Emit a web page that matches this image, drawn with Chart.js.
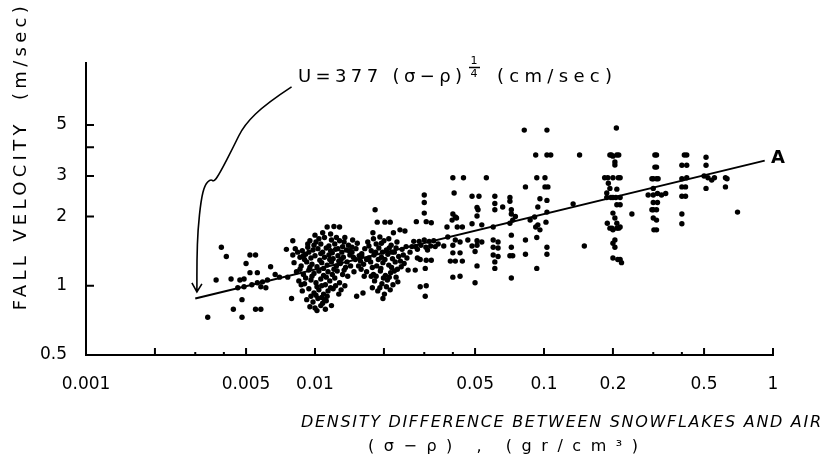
<!DOCTYPE html>
<html>
<head>
<meta charset="utf-8">
<script src="https://cdn.jsdelivr.net/npm/chart.js@4.4.1/dist/chart.umd.min.js"></script>
<style>
  html, body { margin: 0; background: #fff; }
  #wrap { width: 831px; height: 468px; }
</style>
</head>
<body>
<div id="wrap"><canvas id="chart" width="831" height="468"></canvas></div>
<script>
// axis ticks
const xTicks = [0.001, 0.002, 0.003, 0.004, 0.005, 0.01, 0.02, 0.03, 0.04, 0.05, 0.1, 0.2, 0.3, 0.4, 0.5, 1];
const xLabelValues = [0.001, 0.005, 0.01, 0.05, 0.1, 0.2, 0.5, 1];
const xLabelText = ["0.001", "0.005", "0.01", "0.05", "0.1", "0.2", "0.5", "1"];
const xMajorMarks = [0.002, 0.005, 0.01, 0.02, 0.05, 0.1, 0.2, 0.5, 1];
const xMinorMarks = [0.003, 0.004, 0.03, 0.04, 0.3, 0.4];
const yTicks = [0.5, 1, 2, 3, 4, 5];
const yLabelValues = [0.5, 1, 2, 3, 5];
const yLabelText = ["0.5", "1", "2", "3", "5"];
const yMarks = [1, 2, 3, 4, 5];

// observations [density difference gr/cm3, fall velocity m/sec]
const lowDensity = [
  [0.0034,0.73],[0.0039,1.47],[0.0041,1.34],[0.0037,1.06],[0.0043,1.07],[0.0044,0.79],[0.0046,0.98],
  [0.0047,1.06],[0.0048,0.87],[0.0048,0.73],[0.0049,1.07],[0.0049,0.99],[0.0050,1.25],[0.0052,1.36],
  [0.0052,1.14],[0.0053,1.01],[0.0055,1.36],[0.0055,0.79],[0.0056,1.14],[0.0056,1.03],[0.0058,0.99],
  [0.0058,0.79],[0.0059,1.04],[0.0061,0.98],[0.0062,1.06],[0.0064,1.21],[0.0067,1.12],[0.0070,1.09],
  [0.0075,1.44],[0.0076,1.09],[0.0079,0.88],[0.0080,1.57],[0.0087,1.01]
];
const around001 = [
  [0.0095,1.57],[0.0101,1.55],[0.0104,1.60],[0.0110,1.62],[0.0118,1.58],[0.0122,1.52],[0.0128,1.57],
  [0.0134,1.55],[0.0140,1.50],[0.0145,1.47],[0.0113,1.80],[0.0121,1.81],[0.0128,1.80],
  [0.0082,1.45],[0.0088,1.42],[0.0093,1.47],[0.0098,1.43],[0.0103,1.45],[0.0108,1.40],[0.0112,1.46],
  [0.0117,1.42],[0.0123,1.44],[0.0131,1.40],[0.0137,1.43],
  [0.0080,1.36],[0.0086,1.33],[0.0091,1.37],[0.0096,1.32],[0.0100,1.35],[0.0106,1.38],[0.0110,1.33],
  [0.0115,1.36],[0.0120,1.31],[0.0126,1.35],[0.0133,1.33],[0.0142,1.36],
  [0.0081,1.26],[0.0087,1.22],[0.0092,1.27],[0.0097,1.24],[0.0102,1.21],[0.0107,1.26],[0.0113,1.23],
  [0.0118,1.27],[0.0124,1.22],[0.0129,1.25],[0.0136,1.20],
  [0.0083,1.15],[0.0089,1.12],[0.0094,1.17],[0.0099,1.13],[0.0104,1.16],[0.0109,1.11],[0.0114,1.15],
  [0.0119,1.12],[0.0125,1.16],[0.0132,1.12],[0.0139,1.10],
  [0.0085,1.05],[0.0090,1.02],[0.0096,1.06],[0.0101,1.03],[0.0106,1.07],[0.0111,1.01],[0.0116,1.05],
  [0.0122,1.08],[0.0128,1.03],[0.0135,1.00],
  [0.0088,0.95],[0.0094,0.97],[0.0099,0.93],[0.0104,0.96],[0.0109,0.92],[0.0114,0.95],[0.0120,0.97],
  [0.0127,0.92],[0.0092,0.87],[0.0098,0.85],[0.0103,0.88],[0.0108,0.84],[0.0112,0.86],[0.0118,0.82],
  [0.0095,0.81],[0.0100,0.80],[0.0110,0.87],[0.0107,0.89],
  [0.0135,1.62],[0.0146,1.58],[0.0153,1.53],[0.0145,1.40],[0.0150,1.30],[0.0155,1.22],[0.0148,1.15],
  [0.0158,1.28],[0.0160,1.38],
  [0.0084,1.40],[0.0090,1.30],[0.0095,1.20],[0.0099,1.50],[0.0105,1.29],[0.0109,1.19],[0.0116,1.30],
  [0.0121,1.18],[0.0126,1.45],[0.0130,1.30],[0.0134,1.17],[0.0138,1.27],[0.0143,1.22],[0.0086,1.18],
  [0.0091,1.08],[0.0097,1.10],[0.0102,0.99],[0.0107,1.00],[0.0112,1.09],[0.0117,0.98],[0.0123,1.00],
  [0.0130,0.96],[0.0093,1.52],[0.0106,1.52],[0.0115,1.49],[0.0124,1.62],[0.0132,1.48],[0.0100,1.66],
  [0.0108,1.70],[0.0117,1.68],[0.0096,0.90],[0.0101,0.91],[0.0113,0.90],[0.0106,0.82],[0.0102,0.78],
  [0.0111,0.79],[0.0089,1.35],[0.0094,1.40],[0.0119,1.39],[0.0127,1.28],[0.0141,1.42],[0.0147,1.33],
  [0.0151,1.45],[0.0156,1.35],[0.0159,1.18],[0.0164,1.10]
];
const around002 = [
  [0.0183,2.14],[0.0187,1.89],[0.0202,1.89],[0.0213,1.89],[0.0179,1.70],[0.0192,1.63],[0.0220,1.70],
  [0.0235,1.75],[0.0247,1.73],
  [0.0170,1.55],[0.0185,1.52],[0.0200,1.57],[0.0215,1.50],[0.0228,1.55],
  [0.0165,1.45],[0.0176,1.42],[0.0190,1.46],[0.0205,1.43],[0.0222,1.40],[0.0240,1.44],
  [0.0160,1.35],[0.0172,1.32],[0.0181,1.36],[0.0195,1.33],[0.0208,1.37],[0.0218,1.31],[0.0232,1.34],
  [0.0163,1.24],[0.0175,1.27],[0.0186,1.22],[0.0198,1.26],[0.0210,1.23],[0.0224,1.27],[0.0238,1.21],
  [0.0168,1.15],[0.0180,1.12],[0.0193,1.16],[0.0203,1.11],[0.0214,1.14],[0.0226,1.09],
  [0.0182,1.05],[0.0196,1.02],[0.0207,1.06],[0.0219,1.01],[0.0230,1.04],
  [0.0188,0.95],[0.0201,0.92],[0.0213,0.96],[0.0198,0.88],[0.0178,0.98],[0.0192,0.98],
  [0.0152,0.90],[0.0162,0.93],[0.0255,1.17],[0.0274,1.17],[0.0260,1.40],[0.0280,1.32],
  [0.0172,1.49],[0.0184,1.40],[0.0197,1.40],[0.0211,1.46],[0.0226,1.46],[0.0178,1.20],[0.0189,1.30],
  [0.0202,1.30],[0.0216,1.20],[0.0229,1.18],[0.0185,1.10],[0.0199,1.08],[0.0211,1.09],[0.0222,1.16],
  [0.0236,1.28],[0.0243,1.36],[0.0250,1.48],[0.0176,1.10],[0.0205,0.99],[0.0194,1.19],[0.0217,1.40],
  [0.0168,1.30],[0.0245,1.25],[0.0252,1.32],[0.0265,1.48],[0.0195,1.53],[0.0210,1.60],[0.0180,1.60]
];
const around003 = [
  [0.030,2.48],[0.030,2.30],[0.030,2.07],[0.0277,1.90],[0.0306,1.90],[0.0322,1.88],
  [0.0270,1.56],[0.0285,1.56],[0.0300,1.58],[0.0315,1.56],[0.0330,1.57],[0.0275,1.48],[0.0290,1.50],
  [0.0305,1.47],[0.0320,1.49],[0.0335,1.48],[0.0280,1.44],[0.0310,1.43],[0.0345,1.52],
  [0.0288,1.30],[0.0306,1.29],[0.0322,1.29],[0.0303,1.19],[0.0288,0.99],[0.0306,1.00],[0.0303,0.90]
];
const around005 = [
  [0.040,2.05],[0.0415,1.97],[0.040,2.95],[0.0445,2.95],[0.0405,2.53],[0.041,1.99],[0.0397,1.93],
  [0.0377,1.80],[0.0418,1.80],[0.0440,1.80],[0.038,1.63],[0.041,1.58],[0.043,1.55],[0.0365,1.49],
  [0.040,1.50],[0.040,1.39],[0.043,1.39],[0.039,1.28],[0.041,1.28],[0.044,1.28],[0.040,1.09],[0.043,1.10],
  [0.0485,2.45],[0.052,2.45],[0.051,2.19],[0.0515,2.14],[0.051,2.01],[0.0485,1.86],[0.0535,1.84],
  [0.0465,1.58],[0.051,1.57],[0.0535,1.55],[0.0485,1.49],[0.051,1.50],[0.050,1.41],[0.051,1.22],[0.050,1.03],
  [0.061,2.45],[0.061,2.28],[0.061,2.14],[0.066,2.20],[0.060,1.80],[0.060,1.58],[0.063,1.55],[0.060,1.47],
  [0.063,1.46],[0.060,1.36],[0.063,1.34],[0.061,1.27],[0.061,1.19],[0.056,2.95],
  [0.071,2.42],[0.071,2.33],[0.072,2.14],[0.072,2.05],[0.075,2.00],[0.071,1.87],[0.073,1.93],
  [0.072,1.66],[0.072,1.47],[0.071,1.35],[0.073,1.35],[0.072,1.08]
];
const around01 = [
  [0.082,4.75],[0.083,2.69],[0.083,1.58],[0.083,1.37],[0.087,1.93],[0.091,1.99],[0.094,1.84],
  [0.096,1.75],[0.093,1.62],[0.092,1.80],[0.103,4.75],[0.092,3.70],[0.103,3.70],[0.107,3.70],
  [0.093,2.95],[0.101,2.95],[0.101,2.69],[0.104,2.69],[0.096,2.39],[0.103,2.35],[0.103,2.09],
  [0.102,1.89],[0.103,1.47],[0.103,1.37],[0.093,1.19],[0.094,2.20],
  [0.134,2.27],[0.143,3.70],[0.150,1.49]
];
const around02 = [
  [0.207,4.85],[0.194,3.70],[0.208,3.70],[0.200,3.66],[0.204,3.45],[0.204,3.35],
  [0.184,2.95],[0.200,2.95],[0.215,2.95],[0.191,2.79],[0.194,2.65],[0.208,2.63],
  [0.188,2.42],[0.200,2.42],[0.215,2.42],[0.208,2.25],[0.215,2.25],[0.188,2.53],
  [0.200,2.07],[0.204,1.97],[0.208,1.87],[0.194,1.78],[0.208,1.78],[0.215,1.80],
  [0.204,1.58],[0.204,1.47],[0.210,1.30],[0.218,1.26],[0.189,1.87],[0.200,1.75],
  [0.200,1.53],[0.200,1.32],[0.215,1.30],[0.242,2.05],
  [0.190,2.95],[0.211,2.95],[0.196,2.42],[0.206,2.42],[0.198,1.78],[0.212,1.78],[0.197,3.70],[0.212,3.70]
];
const around05 = [
  [0.305,3.70],[0.310,3.70],[0.305,3.28],[0.310,3.28],[0.300,2.92],[0.310,2.92],
  [0.300,2.65],[0.313,2.52],[0.326,2.48],[0.340,2.52],[0.300,2.48],[0.285,2.48],
  [0.300,2.30],[0.313,2.30],[0.300,2.14],[0.310,2.14],[0.300,1.97],[0.310,1.93],[0.310,1.75],
  [0.296,2.92],[0.315,2.92],[0.296,2.14],[0.302,1.75],
  [0.41,3.70],[0.42,3.70],[0.40,3.34],[0.42,3.34],[0.40,2.92],[0.42,2.95],[0.40,2.69],[0.415,2.69],
  [0.40,2.45],[0.415,2.45],[0.40,2.05],[0.40,1.86],
  [0.51,3.62],[0.51,3.34],[0.50,3.00],[0.52,2.95],[0.54,2.88],[0.555,2.95],[0.51,2.65],
  [0.62,2.95],[0.63,2.92],[0.62,2.69],[0.70,2.09]
];
// line A
const lineA = [[0.003, 0.88], [0.92, 3.5]];
// hand drawn arrow from the formula to the start of line A
const arrowPath = [
  [0.0079,7.32],[0.00617,6.23],[0.0049,5.0],[0.0044,4.01],[0.00384,3.09],[0.00362,2.83],
  [0.0035,2.91],[0.0033,2.74],[0.00318,2.36],[0.00308,1.75],[0.00305,1.30],[0.00305,0.94]
];

const allPoints = [].concat(lowDensity, around001, around002, around003, around005, around01, around02, around05);
const toXY = (arr) => arr.map(([x, y]) => ({ x, y }));

function fitText(ctx, text, width) {
  ctx.letterSpacing = "0px";
  const w = ctx.measureText(text).width;
  const sp = (width - w) / (text.length - 1);
  ctx.letterSpacing = sp + "px";
}

const extras = {
  id: "extras",
  afterDraw(chart) {
    const { ctx, scales: { x, y } } = chart;
    const base = y.getPixelForValue(0.5);
    const left = x.getPixelForValue(0.001);
    ctx.save();
    ctx.strokeStyle = "#000";
    ctx.fillStyle = "#000";
    ctx.lineWidth = 2;
    // inward tick marks
    ctx.beginPath();
    xMajorMarks.forEach((v) => {
      const px = x.getPixelForValue(v);
      ctx.moveTo(px, base); ctx.lineTo(px, base - 7);
    });
    xMinorMarks.forEach((v) => {
      const px = x.getPixelForValue(v);
      ctx.moveTo(px, base); ctx.lineTo(px, base - 3);
    });
    yMarks.forEach((v) => {
      const py = y.getPixelForValue(v);
      ctx.moveTo(left, py); ctx.lineTo(left + 8, py);
    });
    ctx.stroke();

    // arrow
    const pts = arrowPath.map(([a, b]) => [x.getPixelForValue(a), y.getPixelForValue(b)]);
    ctx.lineWidth = 1.6;
    ctx.beginPath();
    ctx.moveTo(pts[0][0], pts[0][1]);
    for (let i = 1; i < pts.length - 1; i++) {
      const mx = (pts[i][0] + pts[i + 1][0]) / 2, my = (pts[i][1] + pts[i + 1][1]) / 2;
      ctx.quadraticCurveTo(pts[i][0], pts[i][1], mx, my);
    }
    const tip = pts[pts.length - 1];
    ctx.lineTo(tip[0], tip[1]);
    ctx.moveTo(tip[0] - 5, tip[1] - 9);
    ctx.lineTo(tip[0], tip[1]);
    ctx.lineTo(tip[0] + 5, tip[1] - 8);
    ctx.stroke();

    // formula
    ctx.textBaseline = "middle";
    ctx.textAlign = "left";
    ctx.font = "18px 'DejaVu Sans'";
    fitText(ctx, "U=377 (σ−ρ)", 164);
    ctx.fillText("U=377 (σ−ρ)", 298, 77);
    ctx.letterSpacing = "0px";
    ctx.font = "11px 'DejaVu Sans'";
    ctx.textAlign = "center";
    ctx.fillText("1", 474, 61);
    ctx.fillText("4", 474, 74);
    ctx.lineWidth = 1.5;
    ctx.beginPath(); ctx.moveTo(469, 67.5); ctx.lineTo(480, 67.5); ctx.stroke();
    ctx.textAlign = "left";
    ctx.font = "18px 'DejaVu Sans'";
    fitText(ctx, "(cm/sec)", 115);
    ctx.fillText("(cm/sec)", 497, 77);

    // curve label
    ctx.letterSpacing = "0px";
    ctx.font = "bold 18px 'DejaVu Sans'";
    ctx.fillText("A", 771, 158);

    // axis titles
    ctx.font = "italic 16px 'DejaVu Sans'";
    fitText(ctx, "DENSITY DIFFERENCE BETWEEN SNOWFLAKES AND AIR", 520);
    ctx.fillText("DENSITY DIFFERENCE BETWEEN SNOWFLAKES AND AIR", 301, 423);
    ctx.font = "16px 'DejaVu Sans'";
    fitText(ctx, "(σ−ρ) , (gr/cm³)", 270);
    ctx.fillText("(σ−ρ) , (gr/cm³)", 368, 447);

    ctx.translate(21, 156);
    ctx.rotate(-Math.PI / 2);
    ctx.textAlign = "center";
    ctx.font = "18px 'DejaVu Sans'";
    fitText(ctx, "FALL VELOCITY  (m/sec)", 304);
    ctx.fillText("FALL VELOCITY  (m/sec)", 0, 0);
    ctx.restore();
  }
};

const tickFont = { family: "DejaVu Sans", size: 17 };

new Chart(document.getElementById("chart"), {
  type: "scatter",
  data: {
    datasets: [
      {
        label: "observations",
        data: toXY(allPoints),
        pointRadius: 2.7,
        pointBackgroundColor: "#000",
        pointBorderWidth: 0
      },
      {
        label: "A",
        data: toXY(lineA),
        showLine: true,
        borderColor: "#000",
        borderWidth: 2,
        pointRadius: 0
      }
    ]
  },
  options: {
    responsive: false,
    animation: false,
    layout: { padding: { top: 63, right: 58, left: 0, bottom: 0 } },
    plugins: { legend: { display: false }, tooltip: { enabled: false } },
    scales: {
      x: {
        type: "logarithmic",
        min: 0.001,
        max: 1,
        grid: { display: false, drawTicks: false },
        border: { display: true, color: "#000", width: 2 },
        afterBuildTicks: (s) => { s.ticks = xTicks.map((v) => ({ value: v })); },
        afterFit: (s) => { s.height = 113; },
        ticks: {
          autoSkip: false,
          maxRotation: 0,
          padding: 19,
          color: "#000",
          font: tickFont,
          callback: (v) => {
            const i = xLabelValues.indexOf(v);
            return i >= 0 ? xLabelText[i] : "";
          }
        }
      },
      y: {
        type: "logarithmic",
        min: 0.5,
        max: 9.3,
        grid: { display: false, drawTicks: false },
        border: { display: true, color: "#000", width: 2 },
        afterBuildTicks: (s) => { s.ticks = yTicks.map((v) => ({ value: v })); },
        afterFit: (s) => { s.width = 86; },
        ticks: {
          autoSkip: false,
          padding: 19,
          color: "#000",
          font: tickFont,
          callback: (v) => {
            const i = yLabelValues.indexOf(v);
            return i >= 0 ? yLabelText[i] : "";
          }
        }
      }
    }
  },
  plugins: [extras]
});
</script>
</body>
</html>
